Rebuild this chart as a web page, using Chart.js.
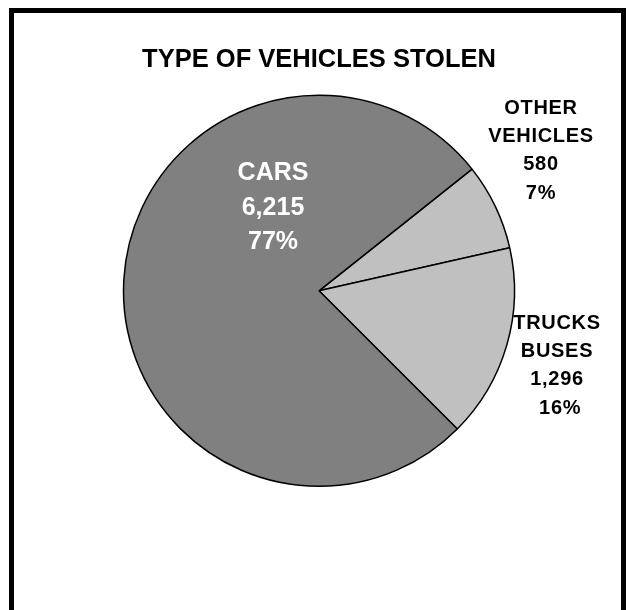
<!DOCTYPE html>
<html>
<head>
<meta charset="utf-8">
<title>Type of vehicles stolen</title>
<script src="https://cdn.jsdelivr.net/npm/chart.js@4.4.1/dist/chart.umd.min.js"></script>
<style>
  body { margin: 0; background: #fff; }
  #frame {
    position: absolute;
    left: 9px;
    top: 8px;
    width: 607px;
    height: 620px;
    border: 5px solid #000;
    background: #fff;
  }
  #wrap { position: absolute; left: 0; top: 0; width: 607px; height: 597px; }
</style>
</head>
<body>
<div id="frame">
  <div id="wrap"><canvas id="myChart"></canvas></div>
</div>
<script>
// --- data ---
const categories = [['OTHER', 'VEHICLES'], ['TRUCKS', 'BUSES'], ['CARS']];
const counts = [580, 1296, 6215];
const sliceColors = ['#c0c0c0', '#c0c0c0', '#808080'];

// where each label block sits, relative to the pie centre (px)
const labelOffsets = [[222, -140], [238, 75], [-46, -83]];
const labelColors = ['#000', '#000', '#fff'];

const total = counts.reduce((a, b) => a + b, 0);

// draws the text labels next to / inside the slices
const sliceLabels = {
  id: 'sliceLabels',
  afterDatasetsDraw(chart) {
    const ctx = chart.ctx;
    const meta = chart.getDatasetMeta(0);
    meta.data.forEach((arc, i) => {
      const big = i === 2;
      const size = big ? 25 : 20;
      const lineH = big ? 34.5 : 28.3;
      const pct = Math.round(counts[i] / total * 100) + '%';
      const lines = categories[i].concat([counts[i].toLocaleString('en-US'), (i === 1 ? ' ' : '') + pct]);
      const x = arc.x + labelOffsets[i][0];
      let y = arc.y + labelOffsets[i][1] - (lines.length - 1) * lineH / 2;
      ctx.save();
      ctx.font = 'bold ' + size + 'px "Liberation Sans", Arial, sans-serif';
      ctx.fillStyle = labelColors[i];
      ctx.textAlign = 'center';
      ctx.textBaseline = 'middle';
      if (!big) ctx.letterSpacing = '0.7px';
      lines.forEach(line => {
        ctx.fillText(line, x, y);
        y += lineH;
      });
      ctx.restore();
    });
  }
};

const ctx = document.getElementById('myChart').getContext('2d');
const myChart = new Chart(ctx, {
  type: 'pie',
  data: {
    labels: categories.map(c => c.join(' ')),
    datasets: [{
      data: counts,
      backgroundColor: sliceColors,
      borderColor: '#000',
      borderWidth: 1.5
    }]
  },
  options: {
    responsive: true,
    maintainAspectRatio: false,
    animation: false,
    rotation: 51.5,
    radius: 195.5,
    layout: { padding: { left: 3, right: 0, top: 0, bottom: 104 } },
    plugins: {
      legend: { display: false },
      tooltip: { enabled: false },
      title: {
        display: true,
        text: 'TYPE OF VEHICLES STOLEN',
        color: '#000',
        font: { family: '"Liberation Sans", Arial, sans-serif', size: 25.5, weight: 'bold', lineHeight: 1.2 },
        padding: { top: 32, bottom: 0 }
      }
    }
  },
  plugins: [sliceLabels]
});
</script>
</body>
</html>
